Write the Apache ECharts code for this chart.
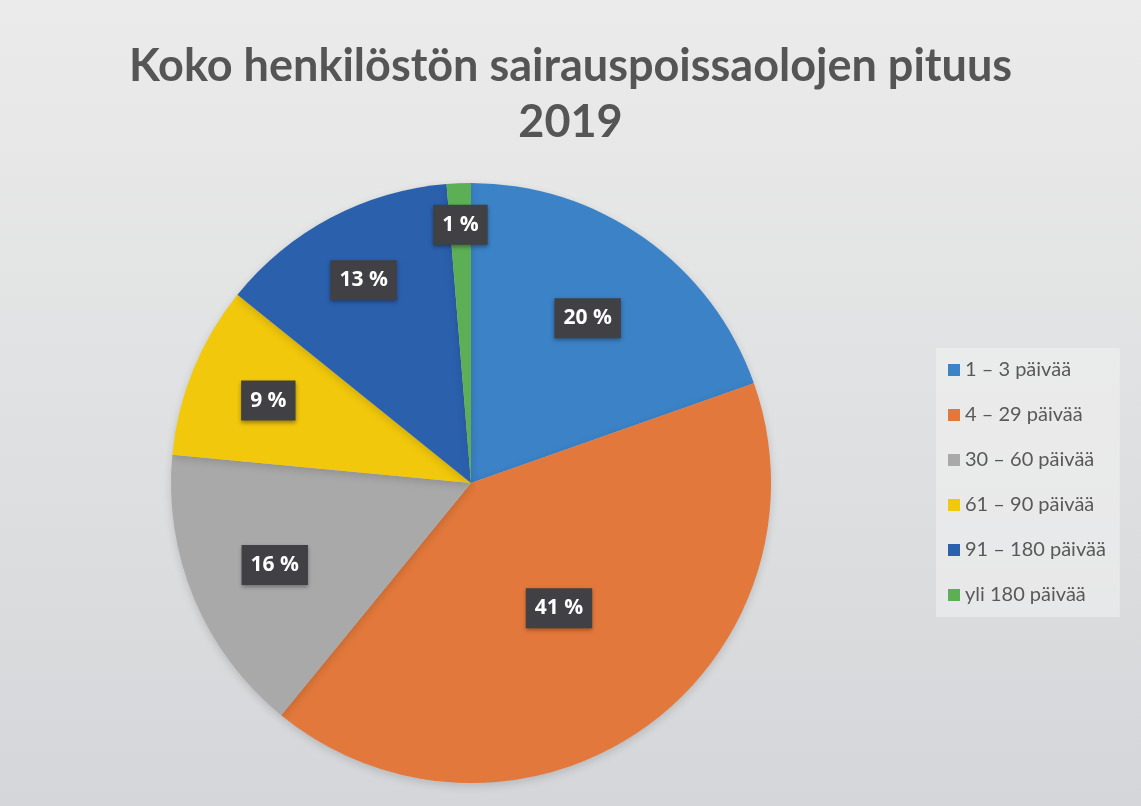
<!DOCTYPE html>
<html>
<head>
    <meta charset="utf-8">
    <title>Koko henkilöstön sairauspoissaolojen pituus 2019</title>
    <script src="https://cdn.jsdelivr.net/npm/echarts@6/dist/echarts.min.js"></script>
    <style>
        html, body { margin: 0; padding: 0; }
    </style>
</head>
<body>
    <div id="main" style="width: 1141px;height:806px;"></div>
    <script type="text/javascript">
        // luokat ja osuudet (%)
        var categories = ['1 – 3 päivää', '4 – 29 päivää', '30 – 60 päivää', '61 – 90 päivää', '91 – 180 päivää', 'yli 180 päivää'];
        var values = [19.6, 41.3, 15.6, 9.3, 12.9, 1.3];
        var colors = ['#3b82c6', '#e2783b', '#a9a9aa', '#f2c80c', '#2b60ad', '#5caf55'];
        // labelin etäisyys keskeltä suhteessa oletukseen (r/2)
        var labelScale = [1.32, 1.0, 1.39, 1.43, 1.5, 1.69];

        var cx = 471, cy = 483;

        var myChart = echarts.init(document.getElementById('main'));

        var pieData = [];
        for (var i = 0; i < categories.length; i++) {
            pieData.push({ name: categories[i], value: values[i], itemStyle: { color: colors[i] } });
        }

        var option = {
            backgroundColor: {
                type: 'linear', x: 0, y: 0, x2: 0, y2: 1,
                colorStops: [
                    { offset: 0, color: '#ebebeb' },
                    { offset: 0.5, color: '#e0e1e2' },
                    { offset: 1, color: '#d4d6d9' }
                ]
            },
            title: {
                text: 'Koko henkilöstön sairauspoissaolojen pituus\n2019',
                left: 'center',
                top: 33,
                textStyle: {
                    fontFamily: 'Lato',
                    fontWeight: 'bold',
                    fontSize: 45,
                    lineHeight: 56,
                    color: '#555555'
                }
            },
            legend: {
                orient: 'vertical',
                left: 936,
                top: 348,
                itemWidth: 12,
                itemHeight: 12,
                itemGap: 25,
                icon: 'rect',
                padding: [12, 14, 12, 12],
                backgroundColor: 'rgba(242,242,242,0.55)',
                textStyle: {
                    fontFamily: 'Lato',
                    fontSize: 20,
                    color: '#595959'
                },
                data: categories
            },
            series: [{
                type: 'pie',
                center: [cx, cy],
                radius: [0, 300],
                startAngle: 90,
                clockwise: true,
                silent: true,
                itemStyle: {
                    shadowBlur: 8,
                    shadowColor: 'rgba(0,0,0,0.15)',
                    shadowOffsetY: 3
                },
                label: {
                    show: true,
                    position: 'inside',
                    formatter: function (p) {
                        return Math.round(p.percent) + ' %';
                    },
                    color: '#ffffff',
                    fontFamily: 'Open Sans',
                    fontWeight: 'bold',
                    fontSize: 21,
                    backgroundColor: '#414045',
                    padding: [10, 9, 9, 9],
                    shadowBlur: 4,
                    shadowColor: 'rgba(0,0,0,0.35)',
                    shadowOffsetY: 2
                },
                labelLine: { show: false },
                labelLayout: function (params) {
                    var r = params.labelRect;
                    var lx = r.x + r.width / 2;
                    var ly = r.y + r.height / 2;
                    var s = labelScale[params.dataIndex];
                    return {
                        x: cx + (lx - cx) * s,
                        y: cy + (ly - cy) * s
                    };
                },
                data: pieData
            }]
        };

        myChart.setOption(option);
    </script>
</body>
</html>
